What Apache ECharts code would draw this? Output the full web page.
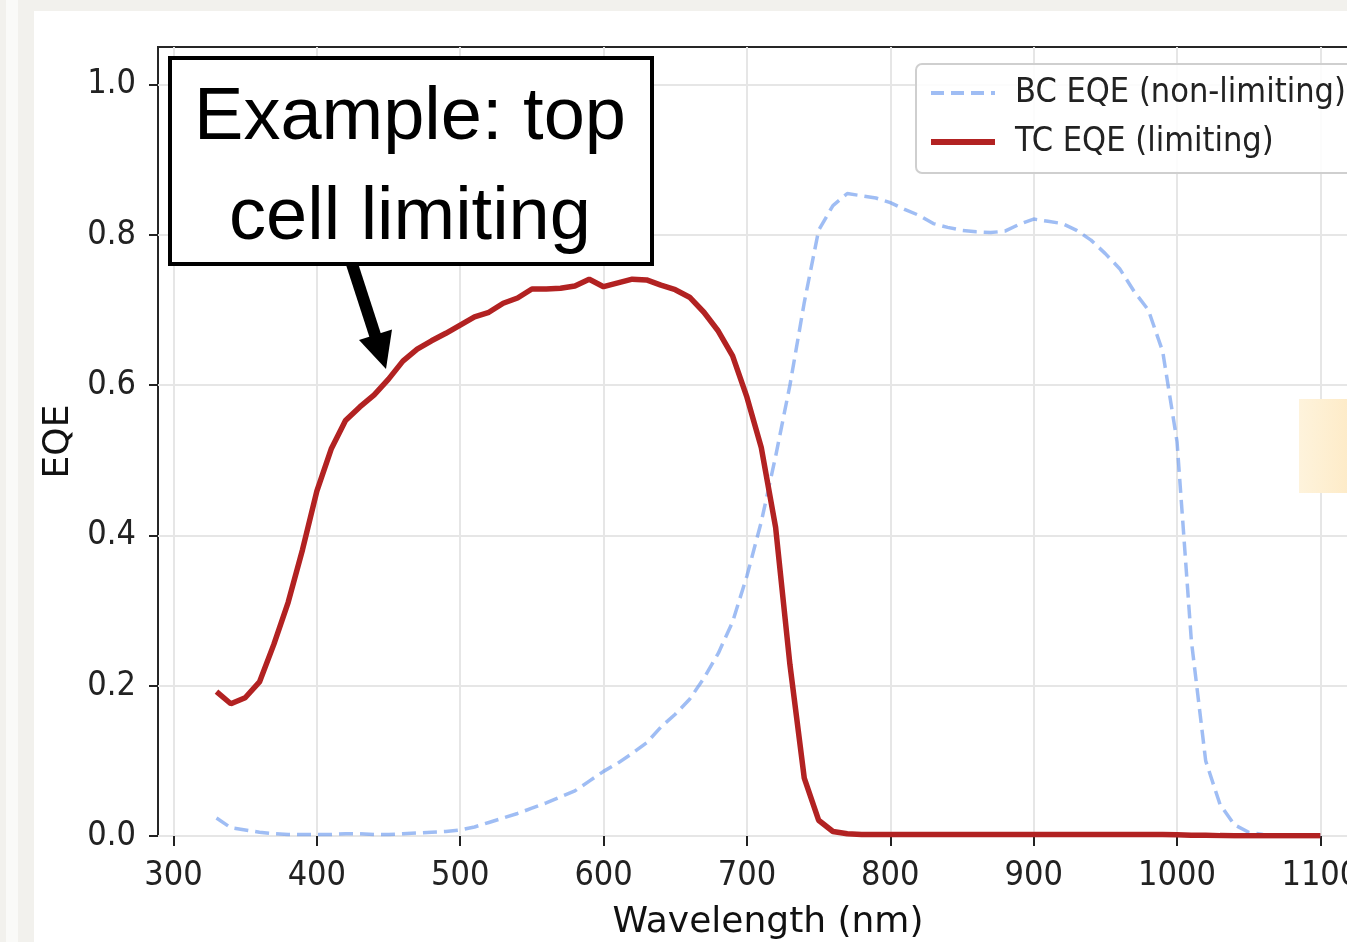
<!DOCTYPE html>
<html>
<head>
<meta charset="utf-8">
<script src="https://cdn.jsdelivr.net/npm/echarts@6/dist/echarts.min.js"></script>
<style>
html,body{margin:0;padding:0;background:#f2f1ed;}
#chart{width:1347px;height:942px;}
</style>
</head>
<body>
<div id="chart"></div>
<script>
// ---- data ----
const wavelengths = [330,340,350,360,370,380,390,400,410,420,430,440,450,460,470,480,490,500,510,520,530,540,550,560,570,580,590,600,610,620,630,640,650,660,670,680,690,700,710,720,730,740,750,760,770,780,790,800,810,820,830,840,850,860,870,880,890,900,910,920,930,940,950,960,970,980,990,1000,1010,1020,1030,1040,1050,1060,1070,1080,1090,1100];
const tcEQE = [0.192,0.176,0.184,0.205,0.255,0.311,0.381,0.459,0.515,0.553,0.571,0.587,0.608,0.632,0.648,0.659,0.669,0.680,0.691,0.697,0.709,0.716,0.728,0.728,0.729,0.732,0.741,0.731,0.736,0.741,0.740,0.733,0.727,0.717,0.697,0.672,0.639,0.584,0.517,0.411,0.228,0.077,0.021,0.006,0.003,0.002,0.002,0.002,0.002,0.002,0.002,0.002,0.002,0.002,0.002,0.002,0.002,0.002,0.002,0.002,0.002,0.002,0.002,0.002,0.002,0.002,0.002,0.0015,0.001,0.001,0.0005,0.0003,0.0003,0.0003,0.0003,0.0003,0.0003,0.0003];
const bcEQE = [0.024,0.011,0.008,0.005,0.003,0.002,0.002,0.002,0.002,0.003,0.003,0.002,0.002,0.003,0.004,0.005,0.006,0.008,0.012,0.018,0.024,0.030,0.037,0.044,0.052,0.060,0.073,0.086,0.097,0.110,0.124,0.145,0.162,0.182,0.210,0.243,0.285,0.346,0.418,0.505,0.600,0.710,0.806,0.839,0.855,0.852,0.849,0.843,0.834,0.826,0.815,0.810,0.806,0.804,0.803,0.805,0.814,0.821,0.818,0.815,0.806,0.793,0.775,0.755,0.725,0.700,0.645,0.525,0.260,0.100,0.042,0.015,0.005,0.002,0.001,0.001,0.0005,0.0005];
const xTicks = [300,400,500,600,700,800,900,1000,1100];
const yTicks = [0,0.2,0.4,0.6,0.8,1.0];
const seriesNames = ['BC EQE (non-limiting)','TC EQE (limiting)'];
const xLabel = 'Wavelength (nm)';
const yLabel = 'EQE';
const annotationLines = ['Example: top','cell limiting'];

const chart = echarts.init(document.getElementById('chart'), null, {renderer:'canvas'});
const FONT = 'DejaVu Sans';
const FONT_C = '"DejaVu Sans Condensed", "DejaVu Sans"';
const tickColor = '#222';
const gridColor = '#e6e6e6';
const bcColor = 'rgba(100,149,237,0.62)';
const tcColor = '#b22222';

const option = {
  backgroundColor: '#f2f1ed',
  animation: false,
  textStyle: {fontFamily: FONT},
  grid: {
    left: 158, top: 47, bottom: 106, width: 1220,
    containLabel: false, outerBoundsMode: 'none',
    show: true, backgroundColor: '#ffffff',
    borderColor: '#262626', borderWidth: 2
  },
  legend: {
    left: 916, top: 64, orient: 'vertical',
    itemWidth: 64, itemHeight: 20, itemGap: 13,
    padding: [11, 24, 13, 12],
    borderColor: '#cfcfcf', borderWidth: 2, borderRadius: 6,
    backgroundColor: 'rgba(255,255,255,0.85)',
    itemStyle: {opacity: 0},
    textStyle: {fontSize: 34, color: '#222', fontFamily: FONT_C, lineHeight: 36, padding: [0,0,0,15]},
    data: [
      {name: seriesNames[0], lineStyle: {color: bcColor, width: 4, type: [13, 7]}},
      {name: seriesNames[1], lineStyle: {color: tcColor, width: 6}}
    ]
  },
  xAxis: {
    type: 'value', min: 289.2, max: 1140.2, splitNumber: 9,
    axisLine: {show: false},
    axisTick: {show: true, customValues: xTicks, length: 10, lineStyle: {color: tickColor, width: 2}},
    axisLabel: {customValues: xTicks, fontSize: 34, color: tickColor, margin: 23, fontFamily: FONT_C,
      formatter: v => (Math.abs(v/100 - Math.round(v/100)) < 1e-6 ? String(Math.round(v)) : '')},
    splitLine: {show: true, lineStyle: {color: gridColor, width: 2}},
    name: xLabel, nameLocation: 'middle', nameGap: 69,
    nameTextStyle: {fontSize: 36, color: '#111', fontFamily: FONT}
  },
  yAxis: {
    type: 'value', min: 0, max: 1.05, interval: 0.2,
    axisLine: {show: false},
    axisTick: {show: true, customValues: yTicks, length: 9, lineStyle: {color: tickColor, width: 2}},
    axisLabel: {customValues: yTicks, fontSize: 34, color: tickColor, margin: 22, fontFamily: FONT_C,
      formatter: v => (Math.abs(v*5 - Math.round(v*5)) < 1e-6 ? v.toFixed(1) : '')},
    splitLine: {show: true, lineStyle: {color: gridColor, width: 2}},
    name: yLabel, nameLocation: 'middle', nameGap: 80, nameRotate: 90,
    nameTextStyle: {fontSize: 36, color: '#111', fontFamily: FONT}
  },
  series: [
    {
      name: seriesNames[0], type: 'line', symbol: 'none', smooth: false,
      data: wavelengths.map((w, i) => [w, bcEQE[i]]),
      lineStyle: {color: bcColor, width: 3.5, type: [14, 7]},
      itemStyle: {color: bcColor},
      z: 2
    },
    {
      name: seriesNames[1], type: 'line', symbol: 'none', smooth: false,
      data: wavelengths.map((w, i) => [w, tcEQE[i]]),
      lineStyle: {color: tcColor, width: 5.5},
      itemStyle: {color: tcColor},
      z: 3
    }
  ],
  graphic: [
    {type: 'rect', z: -100, silent: true, shape: {x: 6, y: 0, width: 12, height: 942}, style: {fill: '#fafaf8'}},
    {type: 'rect', z: -100, silent: true, shape: {x: 34, y: 11, width: 1313, height: 931}, style: {fill: '#ffffff'}},
    {type: 'rect', z: 50, silent: true, shape: {x: 1299, y: 399, width: 100, height: 94},
      style: {fill: new echarts.graphic.LinearGradient(0, 0, 1, 0, [{offset: 0, color: '#fef3dc'}, {offset: 1, color: '#fde3b3'}])}},
    {type: 'rect', z: 100, silent: true, shape: {x: 170, y: 58, width: 482, height: 206},
      style: {fill: '#ffffff', stroke: '#000000', lineWidth: 4}},
    {type: 'text', z: 101, silent: true, x: 410, y: 119,
      style: {text: annotationLines[0], font: '74px "Liberation Sans", Arial, sans-serif', fill: '#000', align: 'center', verticalAlign: 'middle'}},
    {type: 'text', z: 101, silent: true, x: 410, y: 219,
      style: {text: annotationLines[1], font: '74px "Liberation Sans", Arial, sans-serif', fill: '#000', align: 'center', verticalAlign: 'middle'}},
    {type: 'line', z: 100, silent: true, shape: {x1: 352, y1: 264, x2: 376, y2: 338}, style: {stroke: '#000', lineWidth: 12}},
    {type: 'polygon', z: 100, silent: true, shape: {points: [[359, 340], [392, 329.5], [386, 369]]}, style: {fill: '#000'}}
  ]
};
chart.setOption(option);
</script>
</body>
</html>
